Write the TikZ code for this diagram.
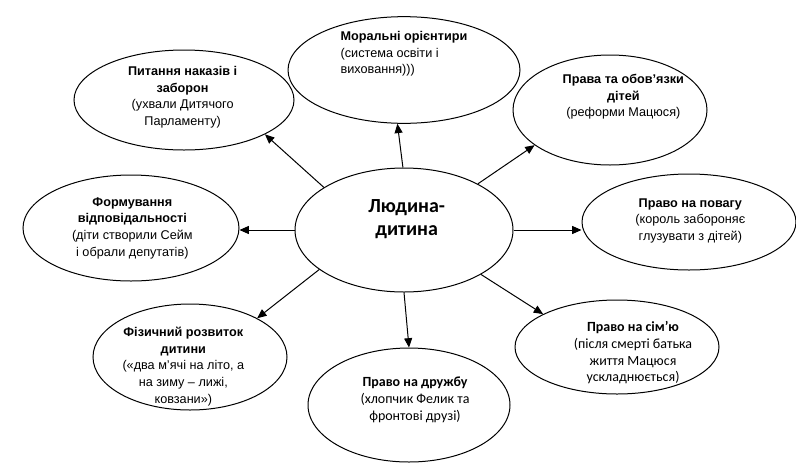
\documentclass[tikz,border=0pt]{standalone}
\usepackage{fontspec}
\setmainfont{Liberation Sans}
\newfontfamily\calib{Carlito}
\usetikzlibrary{shapes.geometric,arrows.meta}

\tikzset{
  bubble/.style={draw, ellipse, line width=0.75pt, inner sep=0pt},
  caption/.style={font=\fontsize{9.5}{12.5}\selectfont, align=center, inner sep=0pt},
  capcal/.style={font=\calib\fontsize{10.5}{12.5}\selectfont, align=center, inner sep=0pt},
  link/.style={line width=0.75pt, -{Triangle[length=7pt,width=6pt]}},
}

\begin{document}
\begin{tikzpicture}[x=0.75pt,y=0.75pt,yscale=-1,xscale=1]
\useasboundingbox (0,0) rectangle (796,465);

%Ellipses
\node[bubble, minimum width=163.5pt, minimum height=93pt] (centre) at (404,230) {};
\node[bubble, minimum width=174pt, minimum height=80pt] (moral) at (404,70) {};
\node[bubble, minimum width=165pt, minimum height=75pt] (orders) at (184,100) {};
\node[bubble, minimum width=145.5pt, minimum height=82.5pt] (rights) at (610,110) {};
\node[bubble, minimum width=162pt, minimum height=79.5pt] (duty) at (131,228) {};
\node[bubble, minimum width=160.5pt, minimum height=72pt] (respect) at (689,222) {};
\node[bubble, minimum width=145.5pt, minimum height=79.5pt] (body) at (190,357) {};
\node[bubble, minimum width=151.5pt, minimum height=85.5pt] (friend) at (409,405) {};
\node[bubble, minimum width=153pt, minimum height=70.5pt] (family) at (617,347) {};

% Text Node
\node[font=\calib\bfseries\fontsize{15}{17}\selectfont, align=center, inner sep=0pt] (centretext) at ([xshift=2pt,yshift=-8pt]centre.center) {Людина-\\дитина};
% Text Node
\node[caption, align=left] (moraltext) at ([yshift=-12pt]moral.center) {\textbf{Моральні орієнтири}\\(система освіти і\\виховання)))};
% Text Node
\node[caption] (orderstext) at ([xshift=-1pt,yshift=-2pt]orders.center) {\textbf{Питання наказів і}\\\textbf{заборон}\\(ухвали Дитячого\\Парламенту)};
% Text Node
\node[caption] (rightstext) at ([xshift=10pt,yshift=-10pt]rights.center) {\textbf{Права та обов’язки}\\\textbf{дітей}\\(реформи Мацюся)};
% Text Node
\node[caption] (dutytext) at ([xshift=1pt]duty.center) {\textbf{Формування}\\\textbf{відповідальності}\\(діти створили Сейм\\і обрали депутатів)};
% Text Node
\node[caption] (respecttext) at ([xshift=1pt,yshift=-1pt]respect.center) {\textbf{Право на повагу}\\(король забороняє\\глузувати з дітей)};
% Text Node
\node[caption] (bodytext) at ([xshift=-5pt,yshift=7pt]body.center) {\textbf{Фізичний розвиток}\\\textbf{дитини}\\(«два м’ячі на літо, а\\на зиму – лижі,\\ковзани»)};
% Text Node
\node[capcal] (friendtext) at ([xshift=4.5pt,yshift=-4pt]friend.center) {\textbf{Право на дружбу}\\(хлопчик Фелик та\\фронтові друзі)};
% Text Node
\node[capcal] (familytext) at ([xshift=12pt,yshift=4.5pt]family.center) {\textbf{Право на сім’ю}\\(після смерті батька\\життя Мацюся\\ускладнюється)};

%Arrows
\draw[link] (centre.91) -- (moral.263);
\draw[link] (centre.152) -- (orders.337);
\draw[link] (centre.32) -- (rights.205);
\draw[link] (centre.west) -- (centre.west -| duty.east);
\draw[link] (centre.east) -- (centre.east -| respect.west);
\draw[link] (centre.205) -- (body.30);
\draw[link] (centre.270) -- (friend.90);
\draw[link] (centre.330) -- (family.156);

\end{tikzpicture}
\end{document}
